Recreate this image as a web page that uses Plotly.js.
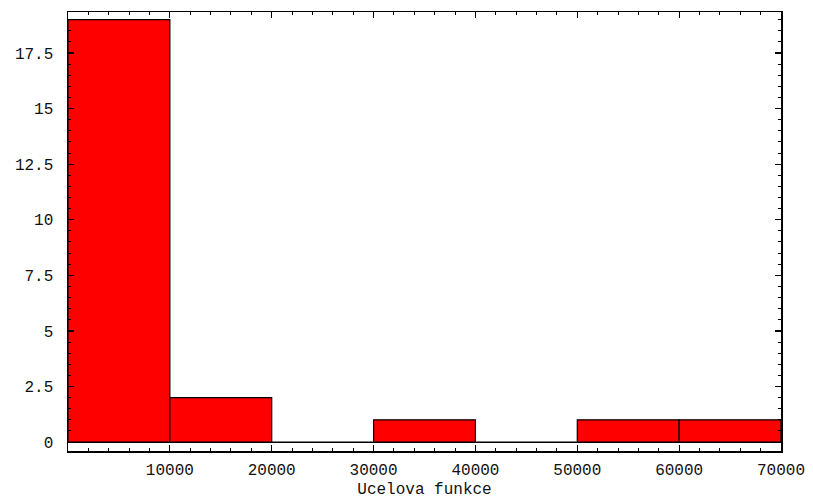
<!DOCTYPE html>
<html>
<head>
<meta charset="utf-8">
<script src="https://cdn.plot.ly/plotly-3.0.1.min.js"></script>
<style>html,body{margin:0;padding:0;background:#fff;}#chart{width:813px;height:499px;}</style>
</head>
<body>
<div id="chart"></div>
<script>
// Histogram of "Ucelova funkce": bin starts, bin width and counts
const binStarts = [0, 10000, 20000, 30000, 40000, 50000, 60000];
const binWidth = 10000;
const counts = [19, 2, 0, 1, 0, 1, 1];
const xTickVals = [10000, 20000, 30000, 40000, 50000, 60000, 70000];
const yTickVals = [0, 2.5, 5, 7.5, 10, 12.5, 15, 17.5];
const yTickText = ["0", "2.5", "5", "7.5", "10", "12.5", "15", "17.5"];
const xTitle = "Ucelova funkce";

const font = {family: "Liberation Mono, Courier New, monospace", size: 16, color: "#111"};

const trace = {
  type: "bar",
  x: binStarts,
  y: counts,
  width: binStarts.map(() => binWidth),
  offset: 0,
  marker: {color: "#ff0000", line: {color: "#000", width: 1.2}},
  hoverinfo: "x+y"
};

const layout = {
  width: 813, height: 499,
  margin: {l: 68, r: 32, t: 12, b: 48},
  paper_bgcolor: "#fff", plot_bgcolor: "#fff",
  showlegend: false,
  font: font,
  bargap: 0,
  xaxis: {
    range: [0, 70000],
    tickvals: xTickVals,
    ticktext: xTickVals.map(String),
    ticks: "inside", ticklen: 6, tickwidth: 1.2, tickcolor: "#000",
    minor: {dtick: 2000, ticks: "inside", ticklen: 3, tickwidth: 1, tickcolor: "#000", showgrid: false},
    showline: true, linecolor: "#000", linewidth: 1.5, mirror: "allticks",
    showgrid: false, zeroline: false,
    tickfont: font,
    ticklabelstandoff: 3,
    title: {text: xTitle, font: font, standoff: 6}
  },
  yaxis: {
    range: [-0.40, 19.34],
    tickvals: yTickVals,
    ticktext: yTickText,
    ticks: "inside", ticklen: 6, tickwidth: 1.2, tickcolor: "#000",
    minor: {dtick: 0.5, ticks: "inside", ticklen: 3, tickwidth: 1, tickcolor: "#000", showgrid: false},
    showline: true, linecolor: "#000", linewidth: 1.5, mirror: "allticks",
    showgrid: false,
    zeroline: true, zerolinecolor: "#000", zerolinewidth: 1.2,
    tickfont: font,
    ticklabelstandoff: 10
  }
};

Plotly.newPlot("chart", [trace], layout, {displayModeBar: false, staticPlot: true});
</script>
</body>
</html>
